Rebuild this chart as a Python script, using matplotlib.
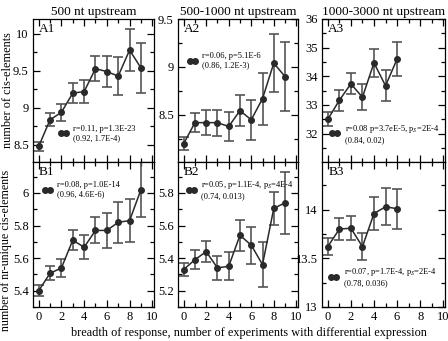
import matplotlib
matplotlib.use('Agg')
import matplotlib.pyplot as plt
from matplotlib.lines import Line2D
from matplotlib.ticker import MultipleLocator

plt.rcParams['font.family'] = ['Liberation Serif', 'DejaVu Serif']
plt.rcParams['mathtext.fontset'] = 'stix'

titles = ['500 nt upstream', '500-1000 nt upstream', '1000-3000 nt upstream']

# top row: number of cis-elements
a1_y = [8.48, 8.84, 8.94, 9.20, 9.22, 9.53, 9.49, 9.43, 9.78, 9.54]
a1_e = [0.06, 0.085, 0.11, 0.13, 0.15, 0.17, 0.21, 0.26, 0.28, 0.34]
a2_y = [8.20, 8.42, 8.42, 8.42, 8.38, 8.545, 8.45, 8.67, 9.04, 8.90]
a2_e = [0.07, 0.10, 0.13, 0.135, 0.15, 0.16, 0.21, 0.27, 0.30, 0.36]
a3_y = [32.5, 33.16, 33.74, 33.27, 34.47, 33.67, 34.6]
a3_e = [0.25, 0.36, 0.37, 0.46, 0.48, 0.54, 0.58]

# bottom row: number of nr-unique cis-elements
b1_y = [5.40, 5.507, 5.54, 5.71, 5.667, 5.77, 5.77, 5.82, 5.83, 6.02]
b1_e = [0.033, 0.044, 0.055, 0.062, 0.073, 0.08, 0.105, 0.125, 0.13, 0.17]
b2_y = [5.33, 5.39, 5.44, 5.34, 5.35, 5.54, 5.48, 5.36, 5.705, 5.74]
b2_e = [0.042, 0.058, 0.064, 0.074, 0.085, 0.095, 0.113, 0.137, 0.10, 0.19]
b3_y = [13.62, 13.80, 13.81, 13.62, 13.96, 14.03, 14.01]
b3_e = [0.087, 0.115, 0.12, 0.14, 0.167, 0.19, 0.205]

panels = [
    ('A1', a1_y, a1_e, (8.27, 10.2), 0.5, 0.25, 'r=0.11, p=1.3E-23\n(0.92, 1.7E-4)', (0.21, 0.20)),
    ('A2', a2_y, a2_e, (8.01, 9.5), 0.5, 0.25, 'r=0.06, p=5.1E-6\n(0.86, 1.2E-3)', (0.075, 0.71)),
    ('A3', a3_y, a3_e, (31.01, 36.0), 1, 0.5, 'r=0.08 p=3.7eE-5, p$_S$=2E-4\n(0.84, 0.02)', (0.065, 0.20)),
    ('B1', b1_y, b1_e, (5.3, 6.19), 0.2, 0.1, 'r=0.08, p=1.0E-14\n(0.96, 4.6E-6)', (0.075, 0.81)),
    ('B2', b2_y, b2_e, (5.1, 5.99), 0.2, 0.1, 'r=0.05, p=1.1E-4, p$_S$=4E-4\n(0.74, 0.013)', (0.067, 0.81)),
    ('B3', b3_y, b3_e, (13.0, 14.49), 0.5, 0.25, 'r=0.07, p=1.7E-4, p$_S$=2E-4\n(0.78, 0.036)', (0.056, 0.21)),
]

W, H = 448, 341
fig = plt.figure(figsize=(W / 100, H / 100), dpi=100)

cols = [(33, 121), (178, 120), (322, 123)]
rows = [(179, 143), (34, 145)]

line_c = '#2a2a2a'
err_c = '#555555'

for i, (name, ys, es, ylim, major, minor, txt, lpos) in enumerate(panels):
    r, c = divmod(i, 3)
    x0, w = cols[c]
    y0, h = rows[r]
    ax = fig.add_axes([x0 / W, y0 / H, w / W, h / H])
    xs = list(range(len(ys)))
    ax.errorbar(xs, ys, yerr=es, fmt='none', ecolor=err_c, elinewidth=1.2,
                capsize=3.5, capthick=1.2)
    ax.plot(xs, ys, '-o', color=line_c, lw=1.1, ms=4)
    ax.set_xlim(-0.5, 10.15)
    ax.set_ylim(*ylim)
    ax.xaxis.set_major_locator(MultipleLocator(2))
    ax.xaxis.set_minor_locator(MultipleLocator(1))
    ax.yaxis.set_major_locator(MultipleLocator(major))
    ax.yaxis.set_minor_locator(MultipleLocator(minor))
    ax.tick_params(which='both', direction='in', top=True, right=True,
                   labelsize=9, pad=3, width=0.9)
    ax.tick_params(which='major', length=5)
    ax.tick_params(which='minor', length=3)
    ax.yaxis.set_major_formatter(plt.FuncFormatter(lambda v, p: ('%g' % round(v, 3))))
    if r == 0:
        ax.tick_params(labelbottom=False)
        ax.set_title(titles[c], fontsize=9.5, pad=3)
    for s in ax.spines.values():
        s.set_linewidth(0.9)
    ax.text(0.05, 0.97, name, transform=ax.transAxes, ha='left', va='top', fontsize=9.5)
    h_ = Line2D([], [], color=line_c, marker='o', ms=4, lw=1.1)
    ax.legend([h_], [txt], loc='center left', bbox_to_anchor=lpos, frameon=False,
              numpoints=2, handlelength=1.2, handletextpad=0.6, fontsize=6,
              borderaxespad=0, borderpad=0, labelspacing=0)
    if i == 0:
        ax.set_ylabel('number of cis-elements', fontsize=8.8)
        ax.yaxis.set_label_coords(-0.155, 0.5)
    if i == 3:
        ax.set_ylabel('number of nr-unique cis-elements', fontsize=8.6)
        ax.yaxis.set_label_coords(-0.175, 0.39)

fig.text(249 / W, 8 / H, 'breadth of response, number of experiments with differential expression',
         ha='center', va='center', fontsize=8.8)

fig.savefig('out.png', dpi=100)
